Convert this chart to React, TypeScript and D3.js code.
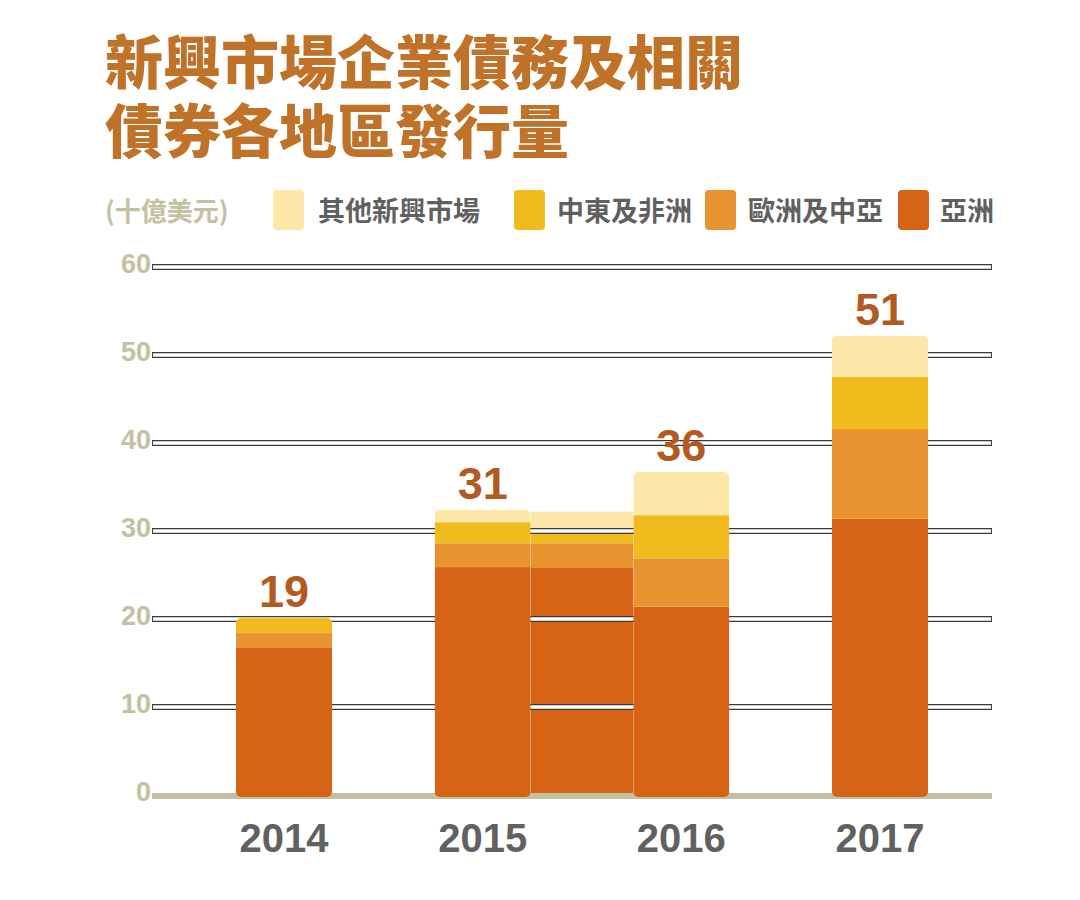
import React from "react";
import * as d3 from "d3";

// ---- data ----
const titleLines = ["新興市場企業債務及相關", "債券各地區發行量"];
const unitLabel = "(十億美元)";
const categories = ["2014", "2015", "2016", "2017"];
const seriesNames = ["亞洲", "歐洲及中亞", "中東及非洲", "其他新興市場"]; // bottom -> top
const asia = [16.7, 25.9, 21.4, 31.4];
const europe = [1.7, 2.7, 5.5, 10.2];
const mea = [1.7, 2.4, 4.9, 5.9];
const other = [0, 1.4, 4.9, 4.7];
const totalLabels = [19, 31, 36, 51];
// filler block drawn between 2015 and 2016 (bottom -> top)
const gapValues = [25.8, 2.8, 1.4, 2.2];
const yTicks = [0, 10, 20, 30, 40, 50, 60];

const colors = ["#d66316", "#e7932f", "#f1bb1e", "#fde8a9"];
const legendOrder = [3, 2, 1, 0];

const W = 1080;
const H = 900;
const CJK = '"Noto Sans CJK TC", "Noto Sans CJK SC", sans-serif';
const LAT = '"Liberation Sans", Arial, sans-serif';

export default function App() {
  const y = d3.scaleLinear().domain([0, 60]).range([795, 267]);
  const x = d3.scalePoint<string>().domain(categories).range([284, 880]);
  const bw = 96;

  const rows = categories.map((c, i) => ({
    cat: c,
    s0: asia[i],
    s1: europe[i],
    s2: mea[i],
    s3: other[i],
  }));
  const keys = ["s0", "s1", "s2", "s3"];
  const stacked = d3.stack<any>().keys(keys)(rows);

  const gapRow = [{ s0: gapValues[0], s1: gapValues[1], s2: gapValues[2], s3: gapValues[3] }];
  const gapStack = d3.stack<any>().keys(keys)(gapRow);
  const gx0 = (x(categories[1]) as number) + bw / 2;
  const gx1 = (x(categories[2]) as number) - bw / 2;

  const gridX0 = 152;
  const gridX1 = 992;

  const legendSwatchX = [273, 514, 705, 898];
  const legendTextX = [318, 557, 748, 940];

  return (
    <svg
      width={W}
      height={H}
      style={{ position: "absolute", left: 0, top: 0, background: "#ffffff" }}
    >
      <defs>
        {categories.map((c, i) => {
          const top = stacked[3][i][1];
          return (
            <clipPath id={`clip${i}`} key={c}>
              <rect
                x={(x(c) as number) - bw / 2}
                y={y(top)}
                width={bw}
                height={y(0) + 2 - y(top)}
                rx={5}
              />
            </clipPath>
          );
        })}
      </defs>

      {/* title */}
      {titleLines.map((t, i) => (
        <text
          key={t}
          x={105}
          y={84 + i * 69}
          fontFamily={CJK}
          fontWeight={900}
          fontSize={58}
          fill="#bf7228"
        >
          {t}
        </text>
      ))}

      {/* legend */}
      <text x={105} y={221} fontFamily={CJK} fontWeight={700} fontSize={26} fill="#c3c1a0">
        {unitLabel}
      </text>
      {legendOrder.map((si, j) => (
        <g key={si}>
          <rect
            x={legendSwatchX[j]}
            y={190}
            width={31}
            height={40}
            rx={4}
            fill={colors[si]}
          />
          <text
            x={legendTextX[j]}
            y={221}
            fontFamily={CJK}
            fontWeight={700}
            fontSize={27}
            fill="#606060"
          >
            {seriesNames[si]}
          </text>
        </g>
      ))}

      {/* filler block between bars (behind gridlines) */}
      {gapStack.map((layer, si) => (
        <rect
          key={si}
          x={gx0}
          y={y(layer[0][1])}
          width={gx1 - gx0}
          height={y(layer[0][0]) - y(layer[0][1]) + (si === 0 ? 2 : 0)}
          fill={colors[si]}
        />
      ))}

      {/* gridlines */}
      {yTicks.filter((t) => t > 0).map((t) => (
        <g key={t}>
          <line x1={gridX0} x2={gridX1} y1={y(t)} y2={y(t)} stroke="#3a3a3a" strokeWidth={6} />
          <line x1={gridX0 + 1} x2={gridX1 - 1} y1={y(t)} y2={y(t)} stroke="#ffffff" strokeWidth={3.5} />
        </g>
      ))}
      {/* baseline */}
      <line x1={gridX0} x2={gridX1} y1={y(0) + 1} y2={y(0) + 1} stroke="#c3c1a0" strokeWidth={6} />

      {/* y tick labels */}
      {yTicks.map((t) => (
        <text
          key={t}
          x={151}
          y={y(t) - 3}
          textAnchor="end"
          dominantBaseline="central"
          fontFamily={LAT}
          fontWeight={700}
          fontSize={27}
          fill="#c3c1a0"
        >
          {t}
        </text>
      ))}

      {/* bars */}
      {categories.map((c, i) => (
        <g key={c} clipPath={`url(#clip${i})`}>
          {stacked.map((layer, si) => (
            <rect
              key={si}
              x={(x(c) as number) - bw / 2}
              y={y(layer[i][1])}
              width={bw}
              height={y(layer[i][0]) - y(layer[i][1]) + (si === 0 ? 2 : 0)}
              fill={colors[si]}
            />
          ))}
        </g>
      ))}

      {/* total labels */}
      {categories.map((c, i) => (
        <text
          key={c}
          x={x(c) as number}
          y={y(stacked[3][i][1]) - 11}
          textAnchor="middle"
          fontFamily={LAT}
          fontWeight={700}
          fontSize={45}
          fill="#b35a22"
        >
          {totalLabels[i]}
        </text>
      ))}

      {/* x labels */}
      {categories.map((c) => (
        <text
          key={c}
          x={x(c) as number}
          y={852}
          textAnchor="middle"
          fontFamily={LAT}
          fontWeight={700}
          fontSize={40}
          fill="#616161"
        >
          {c}
        </text>
      ))}
    </svg>
  );
}
